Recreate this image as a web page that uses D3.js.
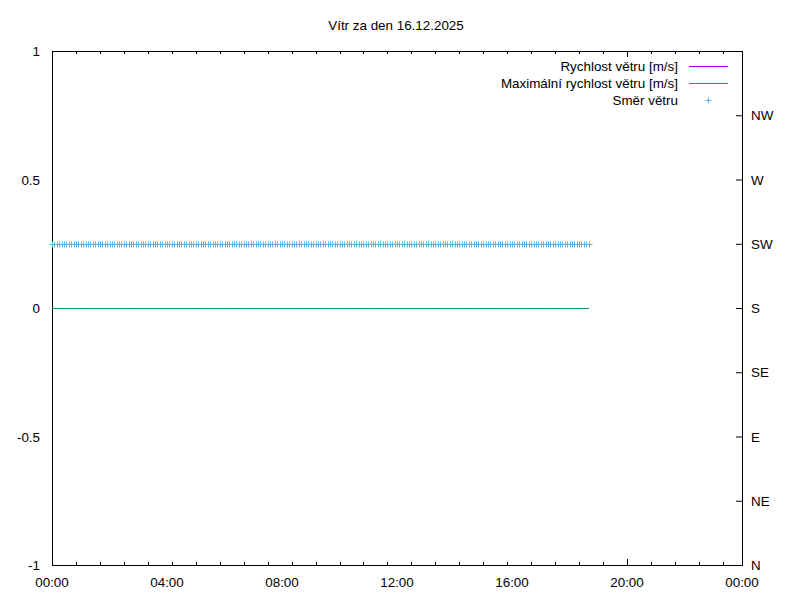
<!DOCTYPE html>
<html>
<head>
<meta charset="utf-8">
<script src="https://cdn.jsdelivr.net/npm/d3@7"></script>
<style>
  body { margin: 0; background: #fff; }
  text { font-family: "Liberation Sans", Arial, sans-serif; font-size: 13.4px; fill: #000; }
</style>
</head>
<body>
<div id="chart"></div>
<script>
// minutes since midnight of each sample
var minutes = [
    0,   5,  10,  15,  20,  25,  30,  35,  40,  45,  50,  55,
   60,  65,  70,  75,  80,  85,  90,  95, 100, 105, 110, 115,
  120, 125, 130, 135, 140, 145, 150, 155, 160, 165, 170, 175,
  180, 185, 190, 195, 200, 205, 210, 215, 220, 225, 230, 235,
  240, 245, 250, 255, 260, 265, 270, 275, 280, 285, 290, 295,
  300, 305, 310, 315, 320, 325, 330, 335, 340, 345, 350, 355,
  360, 365, 370, 375, 380, 385, 390, 395, 400, 405, 410, 415,
  420, 425, 430, 435, 440, 445, 450, 455, 460, 465, 470, 475,
  480, 485, 490, 495, 500, 505, 510, 515, 520, 525, 530, 535,
  540, 545, 550, 555, 560, 565, 570, 575, 580, 585, 590, 595,
  600, 605, 610, 615, 620, 625, 630, 635, 640, 645, 650, 655,
  660, 665, 670, 675, 680, 685, 690, 695, 700, 705, 710, 715,
  720, 725, 730, 735, 740, 745, 750, 755, 760, 765, 770, 775,
  780, 785, 790, 795, 800, 805, 810, 815, 820, 825, 830, 835,
  840, 845, 850, 855, 860, 865, 870, 875, 880, 885, 890, 895,
  900, 905, 910, 915, 920, 925, 930, 935, 940, 945, 950, 955,
  960, 965, 970, 975, 980, 985, 990, 995,1000,1005,1010,1015,
 1020,1025,1030,1035,1040,1045,1050,1055,1060,1065,1070,1075,
 1080,1085,1090,1095,1100,1105,1110,1115,1120
];

var speed = [
  0,0,0,0,0,0,0,0,0,0,0,0,0,0,0,0,0,0,0,0,0,0,0,0,0,
  0,0,0,0,0,0,0,0,0,0,0,0,0,0,0,0,0,0,0,0,0,0,0,0,0,
  0,0,0,0,0,0,0,0,0,0,0,0,0,0,0,0,0,0,0,0,0,0,0,0,0,
  0,0,0,0,0,0,0,0,0,0,0,0,0,0,0,0,0,0,0,0,0,0,0,0,0,
  0,0,0,0,0,0,0,0,0,0,0,0,0,0,0,0,0,0,0,0,0,0,0,0,0,
  0,0,0,0,0,0,0,0,0,0,0,0,0,0,0,0,0,0,0,0,0,0,0,0,0,
  0,0,0,0,0,0,0,0,0,0,0,0,0,0,0,0,0,0,0,0,0,0,0,0,0,
  0,0,0,0,0,0,0,0,0,0,0,0,0,0,0,0,0,0,0,0,0,0,0,0,0,
  0,0,0,0,0,0,0,0,0,0,0,0,0,0,0,0,0,0,0,0,0,0,0,0,0
];

var maxSpeed = [
  0,0,0,0,0,0,0,0,0,0,0,0,0,0,0,0,0,0,0,0,0,0,0,0,0,
  0,0,0,0,0,0,0,0,0,0,0,0,0,0,0,0,0,0,0,0,0,0,0,0,0,
  0,0,0,0,0,0,0,0,0,0,0,0,0,0,0,0,0,0,0,0,0,0,0,0,0,
  0,0,0,0,0,0,0,0,0,0,0,0,0,0,0,0,0,0,0,0,0,0,0,0,0,
  0,0,0,0,0,0,0,0,0,0,0,0,0,0,0,0,0,0,0,0,0,0,0,0,0,
  0,0,0,0,0,0,0,0,0,0,0,0,0,0,0,0,0,0,0,0,0,0,0,0,0,
  0,0,0,0,0,0,0,0,0,0,0,0,0,0,0,0,0,0,0,0,0,0,0,0,0,
  0,0,0,0,0,0,0,0,0,0,0,0,0,0,0,0,0,0,0,0,0,0,0,0,0,
  0,0,0,0,0,0,0,0,0,0,0,0,0,0,0,0,0,0,0,0,0,0,0,0,0
];

// wind direction in degrees (225 = SW)
var direction = [
  225,225,225,225,225,225,225,225,225,225,225,225,225,225,225,225,225,225,225,225,225,225,225,225,225,
  225,225,225,225,225,225,225,225,225,225,225,225,225,225,225,225,225,225,225,225,225,225,225,225,225,
  225,225,225,225,225,225,225,225,225,225,225,225,225,225,225,225,225,225,225,225,225,225,225,225,225,
  225,225,225,225,225,225,225,225,225,225,225,225,225,225,225,225,225,225,225,225,225,225,225,225,225,
  225,225,225,225,225,225,225,225,225,225,225,225,225,225,225,225,225,225,225,225,225,225,225,225,225,
  225,225,225,225,225,225,225,225,225,225,225,225,225,225,225,225,225,225,225,225,225,225,225,225,225,
  225,225,225,225,225,225,225,225,225,225,225,225,225,225,225,225,225,225,225,225,225,225,225,225,225,
  225,225,225,225,225,225,225,225,225,225,225,225,225,225,225,225,225,225,225,225,225,225,225,225,225,
  225,225,225,225,225,225,225,225,225,225,225,225,225,225,225,225,225,225,225,225,225,225,225,225,225
];

var yTicks = [-1, -0.5, 0, 0.5, 1];
var yTickLabels = ["-1", "-0.5", "0", "0.5", "1"];
var dirTicks = [0, 45, 90, 135, 180, 225, 270, 315];
var dirLabels = ["N", "NE", "E", "SE", "S", "SW", "W", "NW"];
var xTicks = [0, 240, 480, 720, 960, 1200, 1440];
var xTickLabels = ["00:00", "04:00", "08:00", "12:00", "16:00", "20:00", "00:00"];
var seriesNames = ["Rychlost větru [m/s]", "Maximální rychlost větru [m/s]", "Směr větru"];
var colors = ["#9400d3", "#009e73", "#56b4e9"];

function drawChart() {

    var w = 800, h = 600;
    var padLeft = 52, padRight = 742, padTop = 51, padBottom = 565;

    var svg = d3.select("#chart").append("svg").attr("width", w).attr("height", h);

    var xScale = d3.scaleLinear().domain([0, 1440]).range([padLeft, padRight]);
    var yScale = d3.scaleLinear().domain([-1, 1]).range([padBottom, padTop]);
    var y2Scale = d3.scaleLinear().domain([0, 360]).range([padBottom, padTop]);

    var data = minutes.map(function (m, i) {
        return { t: m, speed: speed[i], max: maxSpeed[i], dir: direction[i] };
    });

    //title
    svg.append("text").attr("x", 396).attr("y", 30).attr("text-anchor", "middle")
        .text("Vítr za den 16.12.2025");

    //x ticks: hourly minor, 4-hourly major, inward and mirrored on top
    var hourTicks = xScale.ticks(24);
    svg.selectAll(".xtick").data(hourTicks).enter().append("line")
        .attr("x1", function (d) { return Math.round(xScale(d)) + 0.5; })
        .attr("x2", function (d) { return Math.round(xScale(d)) + 0.5; })
        .attr("y1", padBottom)
        .attr("y2", function (d) { return padBottom - (d % 240 === 0 ? 6 : 3); })
        .attr("stroke", "#000");
    svg.selectAll(".xtickTop").data(hourTicks).enter().append("line")
        .attr("x1", function (d) { return Math.round(xScale(d)) + 0.5; })
        .attr("x2", function (d) { return Math.round(xScale(d)) + 0.5; })
        .attr("y1", padTop)
        .attr("y2", function (d) { return padTop + (d % 240 === 0 ? 6 : 3); })
        .attr("stroke", "#000");

    svg.selectAll(".xlabel").data(xTicks).enter().append("text")
        .attr("x", function (d) { return xScale(d); })
        .attr("y", padBottom + 22)
        .attr("text-anchor", "middle")
        .text(function (d, i) { return xTickLabels[i]; });

    //left labels, no ticks
    svg.selectAll(".ylabel").data(yTicks).enter().append("text")
        .attr("x", 40)
        .attr("y", function (d) { return yScale(d) + 5; })
        .attr("text-anchor", "end")
        .text(function (d, i) { return yTickLabels[i]; });

    //right axis with direction names
    var y2Axis = d3.axisLeft(y2Scale).tickValues(dirTicks).tickSize(6).tickFormat("");
    var g2 = svg.append("g").attr("transform", "translate(" + padRight + ",0)").call(y2Axis);
    g2.select(".domain").remove();
    g2.selectAll("line").attr("stroke", "#000");

    svg.selectAll(".y2label").data(dirTicks).enter().append("text")
        .attr("x", 751)
        .attr("y", function (d) { return y2Scale(d) + 5; })
        .text(function (d, i) { return dirLabels[i]; });

    //border
    svg.append("rect").attr("x", padLeft + 0.5).attr("y", padTop + 0.5)
        .attr("width", padRight - padLeft).attr("height", padBottom - padTop)
        .attr("fill", "none").attr("stroke", "#000");

    //series
    var lineSpeed = d3.line()
        .x(function (d) { return xScale(d.t); })
        .y(function (d) { return Math.round(yScale(d.speed)) + 0.5; });
    var lineMax = d3.line()
        .x(function (d) { return xScale(d.t); })
        .y(function (d) { return Math.round(yScale(d.max)) + 0.5; });

    svg.append("path").datum(data).attr("d", lineSpeed).attr("fill", "none").attr("stroke", colors[0]).attr("stroke-width", 1);
    svg.append("path").datum(data).attr("d", lineMax).attr("fill", "none").attr("stroke", colors[1]).attr("stroke-width", 1);

    var crossPath = "M-3,0H3M0,-3V3";
    svg.selectAll(".dir").data(data).enter().append("path")
        .attr("transform", function (d) {
            return "translate(" + (Math.round(xScale(d.t)) + 0.5) + "," + (Math.round(y2Scale(d.dir)) + 0.5) + ")";
        })
        .attr("d", crossPath)
        .attr("fill", "none")
        .attr("stroke", colors[2]);

    //legend
    var legend = svg.append("g");
    seriesNames.forEach(function (name, i) {
        var ly = 66 + i * 17;
        legend.append("text").attr("x", 678).attr("y", ly + 5).attr("text-anchor", "end").text(name);
        if (i < 2) {
            legend.append("line").attr("x1", 689).attr("x2", 728)
                .attr("y1", ly + 0.5).attr("y2", ly + 0.5).attr("stroke", colors[i]);
        } else {
            legend.append("path").attr("transform", "translate(708.5," + (ly + 0.5) + ")")
                .attr("d", crossPath).attr("fill", "none").attr("stroke", colors[i]);
        }
    });
}

drawChart();
</script>
</body>
</html>
